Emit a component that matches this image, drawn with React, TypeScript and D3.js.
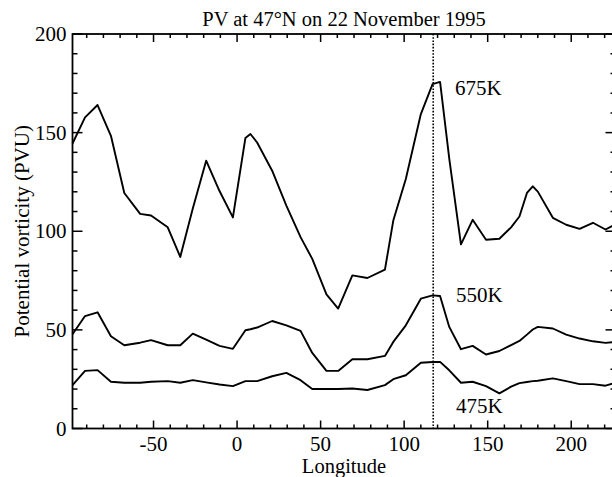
import * as d3 from 'd3';

// longitudes of the polyline vertices (deg)
const longitudes = [
  -98.5, -91, -83.5, -75.5, -67.5, -58, -51.5, -41.5, -34, -26.5, -18.5, -10.5, -2.5, 5, 8, 12,
  21, 29.5, 38, 45, 53.5, 60.5, 69, 78, 88.5, 93.5, 101, 110, 117, 121.5, 127, 134, 141, 149,
  157, 164, 169, 173.5, 177, 180, 189, 197, 205, 213, 220.5, 226.5,
];

const pv675 = [
  144.5, 157.7, 164, 148.4, 119.4, 108.8, 108, 102, 87, 111.5, 135.8, 120.4, 107, 147.3, 149.3,
  145, 130.7, 113, 97, 86, 68, 60.8, 77.6, 76.3, 80.5, 105.4, 126.5, 159.4, 174.6, 175.7, 136.8,
  93.3, 105.8, 95.7, 96.2, 102, 107.5, 119.4, 122.8, 120.1, 106.8, 103.3, 101.2, 104.3, 100.9,
  103.5,
];

const pv550 = [
  47.8, 57, 58.9, 46.8, 42.2, 43.5, 44.8, 42.2, 42.2, 48.1, 45.1, 41.9, 40.4, 49.8, 50.3, 51.2,
  54.5, 52.3, 49.5, 38.3, 29.2, 29.2, 35.1, 35.1, 36.8, 43.9, 52.3, 65.8, 67.5, 67.2, 51.5, 40.2,
  41.9, 37.5, 39.3, 42.3, 44.4, 47.6, 50.2, 51.5, 50.7, 47.6, 45.6, 44.2, 43.4, 43.9,
];

const pv475 = [
  22, 29.2, 29.6, 23.7, 23.2, 23.2, 23.7, 24, 23.2, 24.5, 23.4, 22.3, 21.5, 24, 24, 24, 26.5,
  28.2, 24.5, 20, 20, 20, 20.3, 19.5, 22, 25, 27, 33.3, 33.7, 33.8, 29.5, 23.2, 23.7, 21.5, 17.8,
  21.2, 23, 23.6, 24, 24.2, 25.4, 24, 22.5, 22.5, 21.7, 23.3,
];

const seriesLabels = ['675K', '550K', '475K'];
const xMajorTicks = [-50, 0, 50, 100, 150, 200];
const yMajorTicks = [0, 50, 100, 150, 200];
const markerLon = 117.4;

const W = 612;
const H = 477;
const FONT = '"Liberation Serif"';

const x = d3.scaleLinear().domain([-98.5, 226.5]).range([72.5, 615.5]);
const y = d3.scaleLinear().domain([0, 200]).range([428.5, 34]);
const [x0, x1] = x.range();
const [y0, y1] = y.range();

const xMinor = d3.range(-90, 230, 10).filter((v) => !xMajorTicks.includes(v));
const yMinor = d3.range(10, 200, 10).filter((v) => !yMajorTicks.includes(v));

const line = d3
  .line<number>()
  .x((_, i) => x(longitudes[i]))
  .y((d) => y(d));

// label anchors (left edge, baseline)
const labelPos = [
  { x: 455, y: 95 },
  { x: 456, y: 301.5 },
  { x: 456, y: 413 },
];

export default function App() {
  const textStyle = { fontFamily: FONT, fontSize: 21 };
  return (
    <svg width={W} height={H} style={{ position: 'absolute', left: 0, top: 0, background: '#fff' }}>
      <g stroke="#000" strokeWidth={1.5}>
        {/* x ticks, bottom and top, pointing inward */}
        {xMajorTicks.map((v) => (
          <g key={`xM${v}`}>
            <line x1={x(v)} x2={x(v)} y1={y0} y2={y0 - 8} />
            <line x1={x(v)} x2={x(v)} y1={y1} y2={y1 + 8} />
          </g>
        ))}
        {xMinor.map((v) => (
          <g key={`xm${v}`}>
            <line x1={x(v)} x2={x(v)} y1={y0} y2={y0 - 4} />
            <line x1={x(v)} x2={x(v)} y1={y1} y2={y1 + 4} />
          </g>
        ))}
        {/* y ticks, left and right */}
        {yMajorTicks.map((v) => (
          <g key={`yM${v}`}>
            <line x1={x0} x2={x0 + 10} y1={y(v)} y2={y(v)} />
            <line x1={x1} x2={x1 - 10} y1={y(v)} y2={y(v)} />
          </g>
        ))}
        {yMinor.map((v) => (
          <g key={`ym${v}`}>
            <line x1={x0} x2={x0 + 5} y1={y(v)} y2={y(v)} />
            <line x1={x1} x2={x1 - 5} y1={y(v)} y2={y(v)} />
          </g>
        ))}
      </g>

      <rect x={x0} y={y1} width={x1 - x0} height={y0 - y1} fill="none" stroke="#000" strokeWidth={1.8} />

      <line
        x1={x(markerLon)}
        x2={x(markerLon)}
        y1={y1}
        y2={y0}
        stroke="#000"
        strokeWidth={1.6}
        strokeDasharray="1.6 1.6"
      />

      {[pv675, pv550, pv475].map((vals, i) => (
        <path
          key={i}
          d={line(vals) || ''}
          fill="none"
          stroke="#000"
          strokeWidth={1.9}
          strokeLinejoin="round"
        />
      ))}

      <g fill="#000" style={textStyle}>
        {xMajorTicks.map((v) => (
          <text key={`xl${v}`} x={x(v)} y={y0 + 22.5} textAnchor="middle">
            {String(v)}
          </text>
        ))}
        {yMajorTicks.map((v) => (
          <text key={`yl${v}`} x={x0 - 6} y={y(v)} dy="0.34em" textAnchor="end">
            {String(v)}
          </text>
        ))}
        {seriesLabels.map((t, i) => (
          <text key={t} x={labelPos[i].x} y={labelPos[i].y}>
            {t}
          </text>
        ))}
        <text x={(x0 + x1) / 2} y={26} textAnchor="middle" style={{ fontSize: 20.5 }}>
          PV at 47°N on 22 November 1995
        </text>
        <text x={(x0 + x1) / 2} y={473} textAnchor="middle" style={{ fontSize: 20.5 }}>
          Longitude
        </text>
        <text transform={`translate(29,${(y0 + y1) / 2}) rotate(-90)`} textAnchor="middle">
          Potential vorticity (PVU)
        </text>
      </g>
    </svg>
  );
}
